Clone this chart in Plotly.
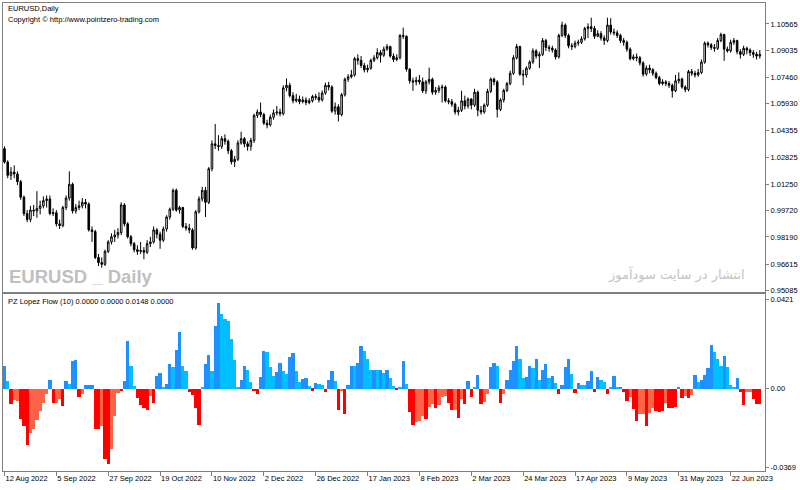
import plotly.graph_objects as go
import pandas as pd

# ---------------- data ----------------
N_BARS = 234
dates = pd.bdate_range("2022-08-12", periods=N_BARS).strftime("%Y-%m-%d").tolist()

opens = [
    1.0332, 1.0254, 1.0177, 1.0196, 1.0185, 1.0140, 1.0050, 0.9955, 0.9920, 0.9975,
    0.9970, 0.9985, 1.0000, 1.0030, 1.0040, 0.9955, 0.9960, 0.9895, 0.9885, 0.9990,
    1.0045, 1.0125, 0.9970, 0.9990, 1.0000, 1.0020, 1.0010, 0.9860, 0.9850, 0.9700,
    0.9670, 0.9660, 0.9735, 0.9790, 0.9820, 0.9830, 0.9845, 1.0005, 0.9895, 0.9820,
    0.9780, 0.9745, 0.9735, 0.9740, 0.9730, 0.9780, 0.9790, 0.9860, 0.9835, 0.9800,
    0.9865, 0.9935, 0.9980, 1.0090, 0.9975, 0.9990, 0.9880, 0.9870, 0.9860, 0.9755,
    0.9965, 1.0040, 1.0090, 1.0020, 1.0215, 1.0360, 1.0350, 1.0345, 1.0390, 1.0375,
    1.0320, 1.0255, 1.0270, 1.0365, 1.0390, 1.0360, 1.0345, 1.0380, 1.0525, 1.0545,
    1.0530, 1.0480, 1.0470, 1.0515, 1.0540, 1.0545, 1.0535, 1.0685, 1.0700, 1.0640,
    1.0610, 1.0620, 1.0605, 1.0615, 1.0600, 1.0610, 1.0635, 1.0630, 1.0615, 1.0655,
    1.0700, 1.0690, 1.0550, 1.0575, 1.0530, 1.0645, 1.0735, 1.0750, 1.0760, 1.0855,
    1.0845, 1.0815, 1.0790, 1.0800, 1.0845, 1.0860, 1.0890, 1.0875, 1.0910, 1.0925,
    1.0870, 1.0850, 1.0860, 1.0990, 1.0985, 1.0794, 1.0726, 1.0720, 1.0730, 1.0720,
    1.0668, 1.0720, 1.0735, 1.0660, 1.0670, 1.0685, 1.0690, 1.0610, 1.0605, 1.0590,
    1.0545, 1.0555, 1.0610, 1.0580, 1.0620, 1.0585, 1.0660, 1.0555, 1.0545, 1.0585,
    1.0665, 1.0736, 1.0720, 1.0560, 1.0615, 1.0670, 1.0710, 1.0770, 1.0860, 1.0925,
    1.0765, 1.0760, 1.0800, 1.0835, 1.0900, 1.0870, 1.0880, 1.0960, 1.0920, 1.0915,
    1.0905, 1.0865, 1.0990, 1.1050, 1.0990, 1.0930, 1.0925, 1.0945, 1.0950, 1.0970,
    1.1030, 1.1040, 1.1030, 1.0985, 1.1000, 1.0975, 1.0960, 1.1050, 1.1010, 1.1005,
    1.0990, 1.0960, 1.0950, 1.0910, 1.0855, 1.0865, 1.0860, 1.0830, 1.0765, 1.0800,
    1.0790, 1.0770, 1.0745, 1.0710, 1.0720, 1.0710, 1.0700, 1.0668, 1.0726, 1.0736,
    1.0690, 1.0675, 1.0780, 1.0770, 1.0760, 1.0775, 1.0835, 1.0945, 1.0935, 1.0920,
    1.0915, 1.0960, 1.0995, 1.0910, 1.0900, 1.0950, 1.0960, 1.0895, 1.0880, 1.0915,
    1.0905, 1.0890, 1.0880, 1.0870,
]
highs = [
    1.0345, 1.0265, 1.0225, 1.0235, 1.0200, 1.0150, 1.0060, 0.9975, 1.0000, 1.0005,
    1.0085, 1.0030, 1.0055, 1.0060, 1.0060, 0.9985, 0.9975, 0.9920, 1.0000, 1.0060,
    1.0200, 1.0135, 1.0010, 1.0030, 1.0045, 1.0040, 1.0020, 0.9880, 0.9860, 0.9720,
    0.9700, 0.9745, 0.9800, 0.9840, 0.9860, 0.9870, 1.0020, 1.0015, 0.9905, 0.9830,
    0.9790, 0.9770, 0.9790, 0.9760, 0.9800, 0.9820, 0.9880, 0.9870, 0.9850, 0.9880,
    0.9945, 0.9990, 1.0100, 1.0100, 1.0000, 0.9995, 0.9900, 0.9895, 0.9870, 0.9975,
    1.0055, 1.0110, 1.0110, 1.0225, 1.0380, 1.0475, 1.0410, 1.0405, 1.0415, 1.0385,
    1.0330, 1.0290, 1.0380, 1.0430, 1.0400, 1.0375, 1.0395, 1.0535, 1.0560, 1.0600,
    1.0540, 1.0500, 1.0530, 1.0560, 1.0580, 1.0565, 1.0700, 1.0740, 1.0715, 1.0660,
    1.0650, 1.0640, 1.0635, 1.0630, 1.0625, 1.0645, 1.0650, 1.0660, 1.0670, 1.0715,
    1.0720, 1.0700, 1.0600, 1.0590, 1.0655, 1.0745, 1.0765, 1.0790, 1.0865, 1.0880,
    1.0870, 1.0830, 1.0820, 1.0855, 1.0875, 1.0915, 1.0905, 1.0925, 1.0940, 1.0930,
    1.0885, 1.0880, 1.0997, 1.1035, 1.0990, 1.0800, 1.0745, 1.0750, 1.0760, 1.0745,
    1.0730, 1.0803, 1.0745, 1.0690, 1.0700, 1.0705, 1.0700, 1.0625, 1.0620, 1.0600,
    1.0575, 1.0668, 1.0640, 1.0630, 1.0625, 1.0680, 1.0670, 1.0580, 1.0595, 1.0680,
    1.0745, 1.0745, 1.0730, 1.0625, 1.0680, 1.0720, 1.0785, 1.0875, 1.0940, 1.0930,
    1.0790, 1.0810, 1.0845, 1.0915, 1.0910, 1.0895, 1.0975, 1.0970, 1.0935, 1.0930,
    1.0915, 1.1000, 1.1070, 1.1060, 1.1000, 1.0945, 1.0960, 1.0965, 1.0985, 1.1040,
    1.1060, 1.1093, 1.1045, 1.1020, 1.1015, 1.0990, 1.1093, 1.1090, 1.1030, 1.1020,
    1.1000, 1.0975, 1.0960, 1.0920, 1.0880, 1.0885, 1.0870, 1.0840, 1.0815, 1.0820,
    1.0800, 1.0780, 1.0755, 1.0735, 1.0730, 1.0725, 1.0710, 1.0760, 1.0775, 1.0745,
    1.0700, 1.0790, 1.0795, 1.0785, 1.0795, 1.0850, 1.0955, 1.0955, 1.0945, 1.0940,
    1.0975, 1.1006, 1.1000, 1.0925, 1.0965, 1.0975, 1.0965, 1.0910, 1.0930, 1.0925,
    1.0915, 1.0905, 1.0895, 1.0905,
]
lows = [
    1.0245, 1.0160, 1.0150, 1.0160, 1.0120, 1.0035, 0.9940, 0.9905, 0.9905, 0.9940,
    0.9930, 0.9950, 0.9985, 0.9990, 0.9945, 0.9940, 0.9880, 0.9865, 0.9875, 0.9975,
    1.0030, 0.9955, 0.9955, 0.9975, 0.9985, 0.9985, 0.9850, 0.9790, 0.9690, 0.9650,
    0.9640, 0.9650, 0.9725, 0.9775, 0.9790, 0.9810, 0.9830, 0.9880, 0.9810, 0.9765,
    0.9730, 0.9715, 0.9720, 0.9690, 0.9720, 0.9760, 0.9780, 0.9810, 0.9750, 0.9790,
    0.9850, 0.9920, 0.9970, 0.9965, 0.9955, 0.9870, 0.9855, 0.9840, 0.9745, 0.9745,
    0.9955, 1.0025, 0.9935, 1.0010, 1.0200, 1.0330, 1.0320, 1.0330, 1.0355, 1.0300,
    1.0240, 1.0225, 1.0260, 1.0355, 1.0340, 1.0320, 1.0320, 1.0365, 1.0510, 1.0515,
    1.0470, 1.0450, 1.0460, 1.0500, 1.0525, 1.0520, 1.0525, 1.0665, 1.0630, 1.0595,
    1.0600, 1.0590, 1.0595, 1.0585, 1.0590, 1.0600, 1.0615, 1.0600, 1.0605, 1.0645,
    1.0670, 1.0540, 1.0530, 1.0490, 1.0520, 1.0635, 1.0720, 1.0740, 1.0750, 1.0820,
    1.0800, 1.0775, 1.0775, 1.0790, 1.0835, 1.0850, 1.0832, 1.0865, 1.0900, 1.0860,
    1.0835, 1.0840, 1.0850, 1.0970, 1.0780, 1.0710, 1.0668, 1.0700, 1.0705, 1.0655,
    1.0650, 1.0705, 1.0645, 1.0645, 1.0655, 1.0600, 1.0600, 1.0590, 1.0575, 1.0530,
    1.0525, 1.0545, 1.0560, 1.0565, 1.0560, 1.0575, 1.0520, 1.0530, 1.0535, 1.0575,
    1.0655, 1.0700, 1.0513, 1.0550, 1.0600, 1.0660, 1.0700, 1.0760, 1.0850, 1.0755,
    1.0700, 1.0745, 1.0790, 1.0825, 1.0855, 1.0800, 1.0870, 1.0900, 1.0895, 1.0890,
    1.0850, 1.0855, 1.0980, 1.0975, 1.0915, 1.0905, 1.0915, 1.0930, 1.0940, 1.0960,
    1.0975, 1.1010, 1.0970, 1.0980, 1.0960, 1.0935, 1.0950, 1.0995, 1.0990, 1.0975,
    1.0945, 1.0930, 1.0895, 1.0845, 1.0845, 1.0840, 1.0815, 1.0750, 1.0755, 1.0770,
    1.0755, 1.0735, 1.0700, 1.0700, 1.0695, 1.0685, 1.0629, 1.0660, 1.0710, 1.0680,
    1.0660, 1.0665, 1.0755, 1.0745, 1.0750, 1.0765, 1.0825, 1.0920, 1.0905, 1.0895,
    1.0905, 1.0950, 1.0842, 1.0890, 1.0890, 1.0935, 1.0880, 1.0855, 1.0870, 1.0880,
    1.0870, 1.0860, 1.0850, 1.0855,
]
closes = [
    1.0254, 1.0177, 1.0196, 1.0185, 1.0140, 1.0050, 0.9955, 0.9920, 0.9975, 0.9970,
    0.9985, 1.0000, 1.0030, 1.0040, 0.9955, 0.9960, 0.9895, 0.9885, 0.9990, 1.0045,
    1.0125, 0.9970, 0.9990, 1.0000, 1.0020, 1.0010, 0.9860, 0.9850, 0.9700, 0.9670,
    0.9660, 0.9735, 0.9790, 0.9820, 0.9830, 0.9845, 1.0005, 0.9895, 0.9820, 0.9780,
    0.9745, 0.9735, 0.9740, 0.9730, 0.9780, 0.9790, 0.9860, 0.9835, 0.9800, 0.9865,
    0.9935, 0.9980, 1.0090, 0.9975, 0.9990, 0.9880, 0.9870, 0.9860, 0.9755, 0.9965,
    1.0040, 1.0090, 1.0020, 1.0215, 1.0360, 1.0350, 1.0345, 1.0390, 1.0375, 1.0320,
    1.0255, 1.0270, 1.0365, 1.0390, 1.0360, 1.0345, 1.0380, 1.0525, 1.0545, 1.0530,
    1.0480, 1.0470, 1.0515, 1.0540, 1.0545, 1.0535, 1.0685, 1.0700, 1.0640, 1.0610,
    1.0620, 1.0605, 1.0615, 1.0600, 1.0610, 1.0635, 1.0630, 1.0615, 1.0655, 1.0700,
    1.0690, 1.0550, 1.0575, 1.0530, 1.0645, 1.0735, 1.0750, 1.0760, 1.0855, 1.0845,
    1.0815, 1.0790, 1.0800, 1.0845, 1.0860, 1.0890, 1.0875, 1.0910, 1.0925, 1.0870,
    1.0850, 1.0860, 1.0990, 1.0985, 1.0794, 1.0726, 1.0720, 1.0730, 1.0720, 1.0668,
    1.0720, 1.0735, 1.0660, 1.0670, 1.0685, 1.0690, 1.0610, 1.0605, 1.0590, 1.0545,
    1.0555, 1.0610, 1.0580, 1.0620, 1.0585, 1.0660, 1.0555, 1.0545, 1.0585, 1.0665,
    1.0736, 1.0720, 1.0560, 1.0615, 1.0670, 1.0710, 1.0770, 1.0860, 1.0925, 1.0765,
    1.0760, 1.0800, 1.0835, 1.0900, 1.0870, 1.0880, 1.0960, 1.0920, 1.0915, 1.0905,
    1.0865, 1.0990, 1.1050, 1.0990, 1.0930, 1.0925, 1.0945, 1.0950, 1.0970, 1.1030,
    1.1040, 1.1030, 1.0985, 1.1000, 1.0975, 1.0960, 1.1050, 1.1010, 1.1005, 1.0990,
    1.0960, 1.0950, 1.0910, 1.0855, 1.0865, 1.0860, 1.0830, 1.0765, 1.0800, 1.0790,
    1.0770, 1.0745, 1.0710, 1.0720, 1.0710, 1.0700, 1.0668, 1.0726, 1.0736, 1.0690,
    1.0675, 1.0780, 1.0770, 1.0760, 1.0775, 1.0835, 1.0945, 1.0935, 1.0920, 1.0915,
    1.0960, 1.0995, 1.0910, 1.0900, 1.0950, 1.0960, 1.0895, 1.0880, 1.0915, 1.0905,
    1.0890, 1.0880, 1.0870, 1.0880,
]

# PZ Lopez Flow histogram value and its state
# (U strong up, u weak up, D strong down, d weak down), one row per 10 bars
flow = [
    0.0109, 0.0036, -0.0073, -0.0054, -0.0057, -0.0143, -0.0174, -0.0262, -0.0209, -0.0189,
    -0.0147, -0.0104, -0.0065, -0.0022, 0.0040, -0.0065, -0.0065, -0.0050, -0.0081, 0.0039,
    0.0025, 0.0132, 0.0136, -0.0037, -0.0022, 0.0016, 0.0020, 0.0020, -0.0189, -0.0189,
    -0.0174, -0.0329, -0.0352, -0.0282, -0.0127, -0.0019, -0.0011, 0.0036, 0.0225, 0.0109,
    0.0012, -0.0042, -0.0078, -0.0088, -0.0099, -0.0034, -0.0068, 0.0059, 0.0074, 0.0005,
    0.0025, 0.0116, 0.0102, 0.0183, 0.0268, 0.0109, 0.0082, -0.0016, -0.0031, -0.0091,
    -0.0171, 0.0005, 0.0118, 0.0160, 0.0082, 0.0295, 0.0403, 0.0353, 0.0330, 0.0322,
    0.0237, 0.0136, 0.0005, 0.0040, 0.0109, 0.0090, 0.0031, -0.0011, -0.0022, 0.0056,
    0.0180, 0.0175, 0.0105, 0.0059, 0.0079, 0.0124, 0.0082, 0.0071, 0.0149, 0.0167,
    0.0085, 0.0031, 0.0048, 0.0051, 0.0012, -0.0008, 0.0026, 0.0025, 0.0017, -0.0014,
    0.0043, 0.0082, 0.0036, -0.0099, -0.0010, -0.0116, 0.0017, 0.0110, 0.0109, 0.0121,
    0.0203, 0.0178, 0.0140, 0.0090, 0.0087, 0.0090, 0.0087, 0.0074, 0.0087, 0.0051,
    0.0012, -0.0006, 0.0005, 0.0132, 0.0023, -0.0109, -0.0169, -0.0155, -0.0150, -0.0127,
    -0.0143, -0.0084, -0.0073, -0.0088, -0.0076, -0.0037, -0.0034, -0.0065, -0.0101, -0.0101,
    -0.0135, -0.0047, -0.0073, 0.0039, -0.0037, 0.0005, 0.0067, -0.0070, -0.0062, -0.0023,
    0.0105, 0.0121, 0.0109, -0.0065, -0.0023, 0.0043, 0.0087, 0.0133, 0.0203, 0.0141,
    0.0051, 0.0056, 0.0110, 0.0098, 0.0140, 0.0043, 0.0090, 0.0118, 0.0051, 0.0062,
    0.0028, -0.0026, 0.0020, 0.0102, 0.0141, 0.0071, -0.0019, 0.0028, 0.0016, 0.0017,
    0.0039, 0.0085, -0.0014, 0.0056, 0.0043, 0.0033, -0.0023, 0.0005, 0.0062, 0.0005,
    0.0008, -0.0016, -0.0057, -0.0039, -0.0093, -0.0150, -0.0119, -0.0119, -0.0174, -0.0112,
    -0.0088, -0.0104, -0.0109, -0.0104, -0.0065, -0.0088, -0.0088, -0.0084, 0.0009, -0.0045,
    -0.0034, -0.0042, -0.0031, 0.0067, 0.0031, 0.0040, 0.0067, 0.0098, 0.0206, 0.0175,
    0.0140, 0.0109, 0.0157, 0.0101, 0.0020, 0.0009, 0.0051, -0.0014, -0.0076, -0.0016,
    -0.0016, -0.0050, -0.0073, -0.0070,
]
flow_state = list(
    "UuDddDDDdd"
    "ddddUDddDU"
    "uUUDdUUUDD"
    "dDDdddDUUu"
    "uDDDDdDUUu"
    "UUuUUuuDDD"
    "DuUUuUUuuu"
    "uuuUUuuDDU"
    "UuuuUUuuUU"
    "uuUUuDUuuD"
    "UUuDdDUUuU"
    "UuuuUuUuUu"
    "uDuUuDDddd"
    "DddDdddDDd"
    "DdDUDuUDdd"
    "UUuDdUUUUu"
    "uUUuUuUUuU"
    "uDUUUuDUuu"
    "UUDUuuDuUu"
    "UDDdDDddDd"
    "dDDDdDDDUD"
    "dDdUuUUUUu"
    "uuUuuuUDDd"
    "dDDD"
)

price_ticks = [1.10565, 1.09035, 1.07460, 1.05930, 1.04355, 1.02825,
               1.01250, 0.99720, 0.98190, 0.96615, 0.95085]
flow_ticks = [0.0421, 0.0, -0.0369]
flow_tick_text = ["0.0421", "0.00", "-0.0369"]
tick_dates = ["2022-08-12", "2022-09-05", "2022-09-27", "2022-10-19", "2022-11-10",
              "2022-12-02", "2022-12-26", "2023-01-17", "2023-02-08", "2023-03-02",
              "2023-03-24", "2023-04-17", "2023-05-09", "2023-05-31", "2023-06-22"]
tick_labels = ["12 Aug 2022", "5 Sep 2022", "27 Sep 2022", "19 Oct 2022", "10 Nov 2022",
               "2 Dec 2022", "26 Dec 2022", "17 Jan 2023", "8 Feb 2023", "2 Mar 2023",
               "24 Mar 2023", "17 Apr 2023", "9 May 2023", "31 May 2023", "22 Jun 2023"]

# ---------------- styling ----------------
state_colors = {"U": "#1E90FF", "u": "#00BFFF", "D": "#FF0000", "d": "#FF6347"}
bar_colors = [state_colors[s] for s in flow_state]

W, H = 800, 490
ML, MR, MT, MB = 2, 34, 2, 19
PH = H - MT - MB
PW = W - ML - MR


def py(y):  # pixel y -> paper
    return (H - MB - y) / PH


def pxx(x):
    return (x - ML) / PW


FONT = "Liberation Sans, Arial, sans-serif"
FRAME = "#7f7f7f"
XR = [-0.46, 234.6]

fig = go.Figure()
fig.add_trace(go.Candlestick(
    x=dates, open=opens, high=highs, low=lows, close=closes,
    xaxis="x", yaxis="y", showlegend=False, whiskerwidth=0,
    increasing=dict(line=dict(color="black", width=1), fillcolor="white"),
    decreasing=dict(line=dict(color="black", width=1), fillcolor="black"),
    hoverinfo="skip",
))
fig.add_trace(go.Bar(
    x=dates, y=flow, xaxis="x2", yaxis="y2", showlegend=False,
    marker=dict(color=bar_colors, line=dict(width=0)), hoverinfo="skip",
))

top_dom = [py(291.5), 1.0]
bot_dom = [0.0, py(293.5)]

fig.update_layout(
    width=W, height=H,
    margin=dict(l=ML, r=MR, t=MT, b=MB, pad=0),
    paper_bgcolor="white", plot_bgcolor="white",
    bargap=0, showlegend=False,
    font=dict(family=FONT, size=7.5, color="black"),
    xaxis=dict(domain=[0, 1], anchor="y", type="category", range=XR,
               showline=True, mirror=True, linecolor=FRAME, linewidth=1,
               showticklabels=False, ticks="", showgrid=False,
               rangeslider=dict(visible=False)),
    yaxis=dict(domain=top_dom, anchor="x", side="right",
               range=[0.94998, 1.11783],
               tickvals=price_ticks, ticktext=[f"{v:.5f}" for v in price_ticks],
               ticks="outside", ticklen=3, tickcolor=FRAME,
               showline=True, mirror=True, linecolor=FRAME, linewidth=1,
               showgrid=False, zeroline=False,
               tickfont=dict(family=FONT, size=7.5, color="black")),
    xaxis2=dict(domain=[0, 1], anchor="y2", type="category", range=XR,
                showline=True, mirror=True, linecolor=FRAME, linewidth=1,
                tickvals=tick_dates, ticktext=tick_labels,
                ticks="outside", ticklen=4, tickcolor=FRAME,
                ticklabelposition="outside right", showgrid=False,
                tickfont=dict(family=FONT, size=7.5, color="black")),
    yaxis2=dict(domain=bot_dom, anchor="x2", side="right",
                range=[-0.03874, 0.04469],
                tickvals=flow_ticks, ticktext=flow_tick_text,
                ticks="outside", ticklen=3, tickcolor=FRAME,
                showline=True, mirror=True, linecolor=FRAME, linewidth=1,
                showgrid=False, zeroline=False,
                tickfont=dict(family=FONT, size=7.5, color="black")),
)

ann = [
    dict(text="EURUSD,Daily", x=pxx(5), y=py(8)),
    dict(text="Copyright © http://www.pointzero-trading.com", x=pxx(5), y=py(19)),
    dict(text="PZ Lopez Flow (10) 0.0000 0.0000 0.0148 0.0000", x=pxx(5), y=py(301)),
]
for a in ann:
    fig.add_annotation(text=a["text"], xref="paper", yref="paper", x=a["x"], y=a["y"],
                       xanchor="left", yanchor="middle", showarrow=False,
                       font=dict(family=FONT, size=7.5, color="black"))

fig.add_annotation(text="<b>EURUSD _ Daily</b>", xref="paper", yref="paper",
                   x=pxx(6), y=py(276), xanchor="left", yanchor="middle", showarrow=False,
                   font=dict(family="Liberation Sans, Arial, sans-serif",
                             size=18.5, color="#C0C0C0"))
fig.add_annotation(text="انتشار در سایت سودآموز", xref="paper", yref="paper",
                   x=pxx(748), y=py(274), xanchor="right", yanchor="middle", showarrow=False,
                   font=dict(family="DejaVu Sans, Noto Sans, sans-serif", size=13, color="#C4C4C4"))

fig.write_html("out.html")
